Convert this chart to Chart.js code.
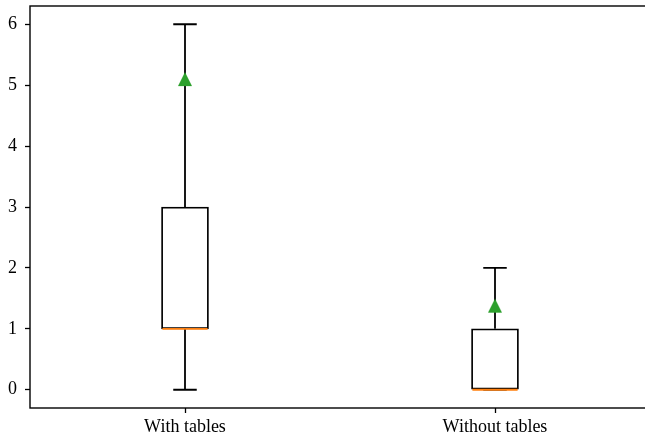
<!DOCTYPE html>
<html>
<head>
<meta charset="utf-8">
<script src="https://cdn.jsdelivr.net/npm/chart.js@4/dist/chart.umd.min.js"></script>
<style>
  html, body { margin: 0; padding: 0; background: #fff; overflow: hidden; }
  #wrap { width: 645px; height: 441px; overflow: hidden; }
  canvas { display: block; }
</style>
</head>
<body>
<div id="wrap"><canvas id="c" width="652" height="441"></canvas></div>
<script>
// Box-plot summary per group
const categories = ['With tables', 'Without tables'];
const whiskerLow  = [0, 0];
const quartile1   = [1, 0];
const medians     = [1, 0];
const quartile3   = [3, 1];
const whiskerHigh = [6, 2];
const means       = [5.1, 1.38];
const yTicks      = [0, 1, 2, 3, 4, 5, 6];

const BLACK = '#000000';
const ORANGE = '#ff7f0e';
const GREEN = '#2ca02c';
const LINE_W = 1.8;

// Mean marker: upward triangle centred on its point
function triangleMarker(size, color) {
  const pad = 2;
  const cv = document.createElement('canvas');
  cv.width = size + pad * 2;
  cv.height = size + pad * 2;
  const g = cv.getContext('2d');
  g.fillStyle = color;
  g.beginPath();
  g.moveTo(pad + size / 2, pad);
  g.lineTo(pad + size, pad + size);
  g.lineTo(pad, pad + size);
  g.closePath();
  g.fill();
  return cv;
}

// Whiskers and caps go under the boxes, medians and frame on top
const boxParts = {
  id: 'boxParts',
  beforeDatasetsDraw(chart) {
    const { ctx, scales: { x, y } } = chart;
    const boxMeta = chart.getDatasetMeta(0);
    ctx.save();
    ctx.strokeStyle = BLACK;
    ctx.lineWidth = LINE_W;
    categories.forEach((_, i) => {
      const cx = x.getPixelForValue(i);
      const half = boxMeta.data[i].width / 2;
      const capHalf = half / 2;
      const segs = [
        [quartile1[i], whiskerLow[i]],
        [quartile3[i], whiskerHigh[i]]
      ];
      segs.forEach(([from, to]) => {
        const y0 = y.getPixelForValue(from), y1 = y.getPixelForValue(to);
        ctx.beginPath();
        ctx.moveTo(cx, y0); ctx.lineTo(cx, y1);
        ctx.moveTo(cx - capHalf, y1); ctx.lineTo(cx + capHalf, y1);
        ctx.stroke();
      });
    });
    ctx.restore();
  },
  afterDatasetsDraw(chart) {
    const { ctx, chartArea: a, scales: { x, y } } = chart;
    const boxMeta = chart.getDatasetMeta(0);
    ctx.save();
    ctx.strokeStyle = ORANGE;
    ctx.lineWidth = LINE_W;
    categories.forEach((_, i) => {
      const cx = x.getPixelForValue(i);
      const half = boxMeta.data[i].width / 2;
      const my = y.getPixelForValue(medians[i]);
      ctx.beginPath();
      ctx.moveTo(cx - half + 0.9, my); ctx.lineTo(cx + half - 0.9, my);
      ctx.stroke();
    });
    ctx.strokeStyle = BLACK;
    ctx.lineWidth = 1.4;
    ctx.strokeRect(a.left, a.top, a.right - a.left, a.bottom - a.top);
    ctx.restore();
  }
};

const FONT = { family: '"Liberation Serif", "Times New Roman", serif', size: 18 };

function noScalePadding(s) {
  s.paddingTop = 0; s.paddingBottom = 0; s.paddingLeft = 0; s.paddingRight = 0;
}

new Chart(document.getElementById('c'), {
  data: {
    labels: categories,
    datasets: [
      {
        type: 'bar',
        order: 2,
        data: categories.map((_, i) => [quartile1[i], quartile3[i]]),
        backgroundColor: '#ffffff',
        borderColor: BLACK,
        borderWidth: LINE_W,
        borderSkipped: false,
        barThickness: 47
      },
      {
        type: 'line',
        order: 1,
        data: means,
        showLine: false,
        pointStyle: triangleMarker(14, GREEN),
        pointRadius: 7,
        pointHoverRadius: 7
      }
    ]
  },
  options: {
    responsive: false,
    animation: false,
    devicePixelRatio: 1,
    layout: { autoPadding: false, padding: { top: 6, right: 2, left: 0, bottom: 0 } },
    plugins: { legend: { display: false }, tooltip: { enabled: false } },
    scales: {
      x: {
        type: 'category',
        offset: true,
        grid: { drawOnChartArea: false, tickLength: 5, tickColor: BLACK, tickWidth: 1.3, offset: false },
        border: { display: false },
        ticks: { color: BLACK, font: FONT, padding: 3, maxRotation: 0 },
        afterFit(s) { s.height = 33; noScalePadding(s); }
      },
      y: {
        type: 'linear',
        min: -0.3,
        max: 6.3,
        grid: { drawOnChartArea: false, tickLength: 5, tickColor: BLACK, tickWidth: 1.3 },
        border: { display: false },
        ticks: { color: BLACK, font: FONT, padding: 8 },
        afterBuildTicks(s) { s.ticks = yTicks.map(v => ({ value: v })); },
        afterFit(s) { s.width = 30; noScalePadding(s); }
      }
    }
  },
  plugins: [boxParts]
});
</script>
</body>
</html>
